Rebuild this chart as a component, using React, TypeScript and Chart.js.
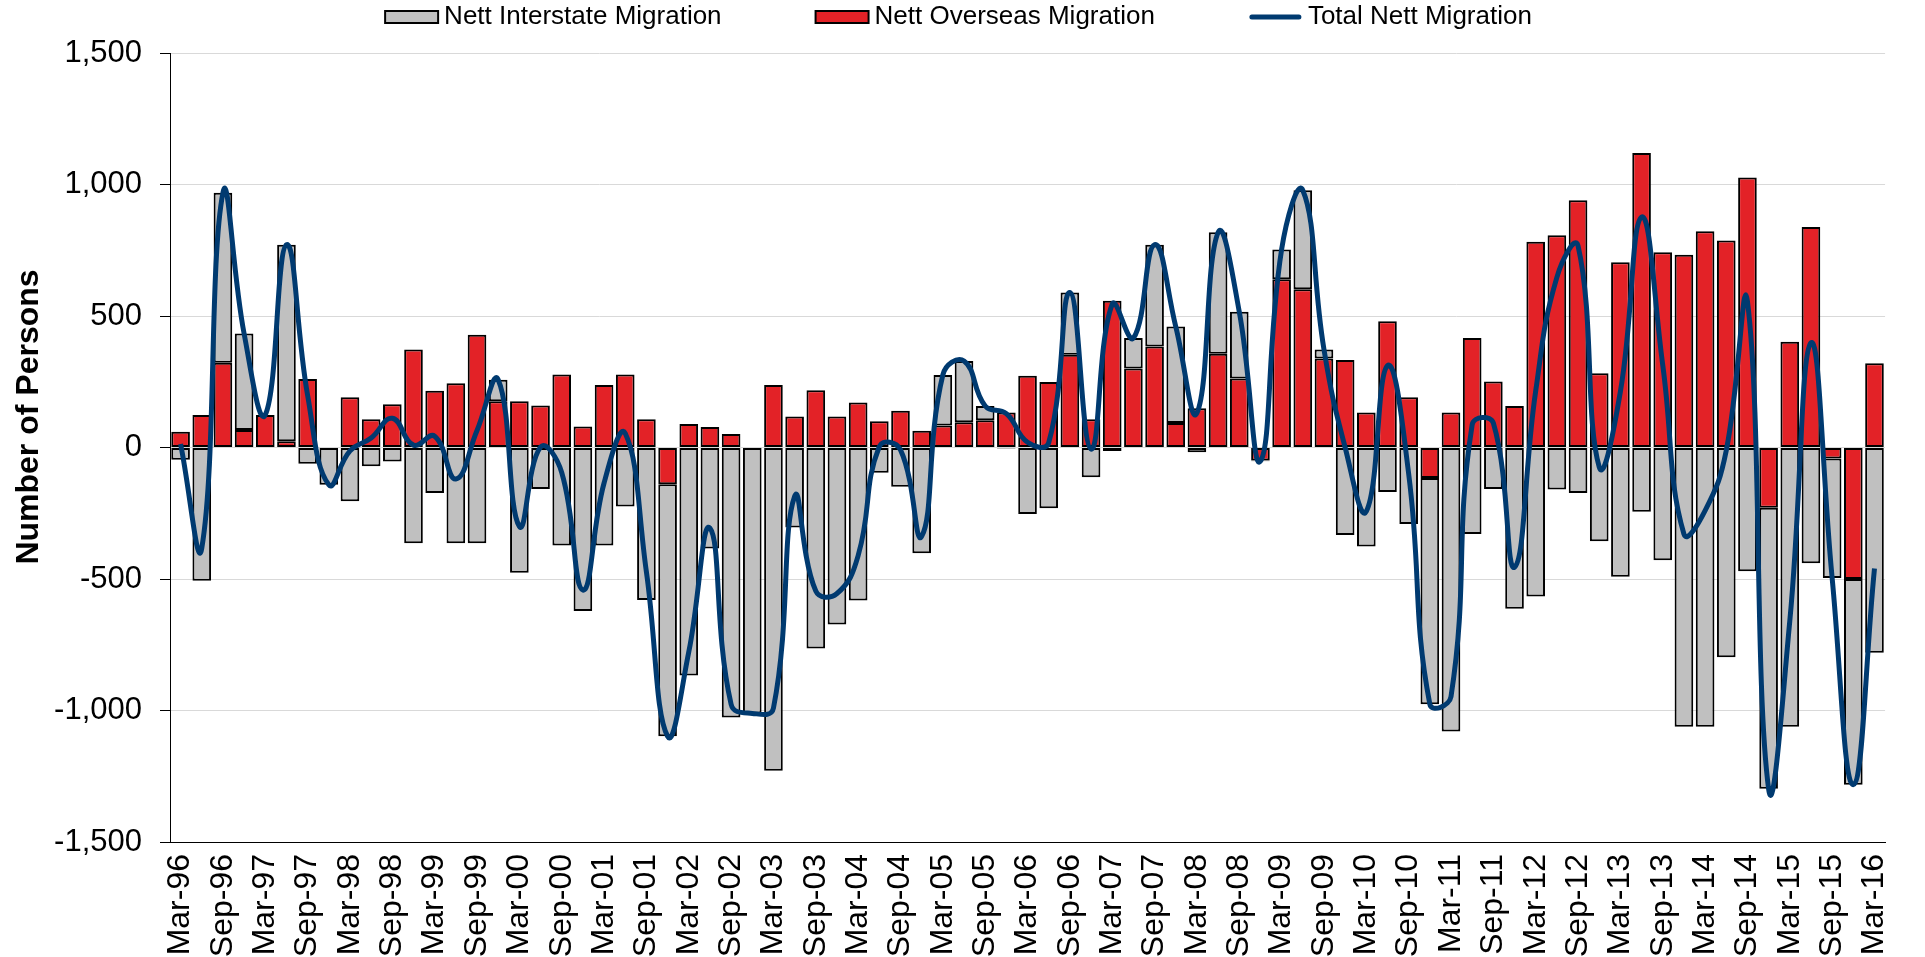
import { useEffect, useRef } from 'react';
import { Chart, registerables } from 'chart.js';

Chart.register(...registerables);

const categories = [
  'Mar-96','Jun-96','Sep-96','Dec-96','Mar-97','Jun-97','Sep-97','Dec-97',
  'Mar-98','Jun-98','Sep-98','Dec-98','Mar-99','Jun-99','Sep-99','Dec-99',
  'Mar-00','Jun-00','Sep-00','Dec-00','Mar-01','Jun-01','Sep-01','Dec-01',
  'Mar-02','Jun-02','Sep-02','Dec-02','Mar-03','Jun-03','Sep-03','Dec-03',
  'Mar-04','Jun-04','Sep-04','Dec-04','Mar-05','Jun-05','Sep-05','Dec-05',
  'Mar-06','Jun-06','Sep-06','Dec-06','Mar-07','Jun-07','Sep-07','Dec-07',
  'Mar-08','Jun-08','Sep-08','Dec-08','Mar-09','Jun-09','Sep-09','Dec-09',
  'Mar-10','Jun-10','Sep-10','Dec-10','Mar-11','Jun-11','Sep-11','Dec-11',
  'Mar-12','Jun-12','Sep-12','Dec-12','Mar-13','Jun-13','Sep-13','Dec-13',
  'Mar-14','Jun-14','Sep-14','Dec-14','Mar-15','Jun-15','Sep-15','Dec-15',
  'Mar-16',
];

const interstate = [
  -47, -507, 647, 366, 0, 747, -62, -142,
  -204, -71, -53, -364, -173, -364, -364, 82,
  -476, -158, -373, -622, -373, -224, -580, -958,
  -867, -384, -1027, -1011, -1229, -304, -764, -673,
  -582, -96, -149, -402, 192, 233, 54, -4,
  -253, -231, 236, -113, -13, 116, 387, 367,
  -18, 462, 254, -3, 113, 376, 35, -333,
  -376, -169, -291, -860, -1080, -329, -158, -613,
  -567, -160, -173, -356, -491, -244, -429, -1062,
  -1062, -798, -471, -1069, -1062, -440, -454, -782,
  -780,
];

const overseas = [
  60, 124, 322, 67, 124, 24, 260, 0,
  191, 107, 164, 373, 216, 244, 429, 176,
  176, 160, 278, 80, 238, 278, 107, -140,
  89, 78, 51, 0, 238, 118, 218, 118,
  171, 100, 140, 64, 84, 96, 104, 133,
  273, 249, 353, 107, 558, 300, 384, 93,
  149, 356, 262, -49, 640, 602, 338, 333,
  133, 480, 191, -116, 133, 416, 251, 158,
  782, 807, 940, 282, 704, 1120, 742, 733,
  822, 787, 1027, -229, 402, 838, -42, -500,
  320,
];

const totalNett = [
  13, -383, 969, 433, 124, 771, 198, -142,
  -13, 36, 111, 9, 43, -120, 65, 258,
  -300, 2, -95, -542, -135, 54, -473, -1098,
  -778, -306, -976, -1011, -991, -186, -546, -555,
  -411, 4, -9, -338, 276, 329, 158, 129,
  20, 18, 589, -6, 545, 416, 771, 460,
  131, 818, 516, -52, 753, 978, 373, 0,
  -243, 311, -100, -976, -947, 87, 93, -455,
  215, 647, 767, -74, 213, 876, 313, -329,
  -240, -11, 556, -1298, -660, 398, -496, -1282,
  -460,
];

const yTickValues = [-1500, -1000, -500, 0, 500, 1000, 1500];

const FONT = '"Liberation Sans", Arial, Helvetica, sans-serif';
const GRAY = '#C0C0C0';
const RED = '#E32227';
const NAVY = '#003A70';

const customLegend = {
  id: 'customLegend',
  afterDraw(chart: any) {
    const ctx = chart.ctx as CanvasRenderingContext2D;
    ctx.save();
    ctx.font = `26px ${FONT}`;
    const boxW = 53;
    const boxH = 12;
    const gapBox = 6;
    const gapItem = 94;
    const items = chart.data.datasets.map((ds: any) => ({
      label: ds.label as string,
      type: ds.type,
      fill: ds.backgroundColor,
      stroke: ds.borderColor,
      w: ctx.measureText(ds.label).width,
    }));
    let totalW = 0;
    items.forEach((it: any, i: number) => {
      totalW += boxW + gapBox + it.w + (i > 0 ? gapItem : 0);
    });
    let x = (chart.width - totalW) / 2 - 4;
    const cy = 17;
    items.forEach((it: any) => {
      if (it.type === 'line') {
        ctx.strokeStyle = it.stroke;
        ctx.lineWidth = 5;
        ctx.lineCap = 'round';
        ctx.beginPath();
        ctx.moveTo(x + 3, cy);
        ctx.lineTo(x + boxW - 3, cy);
        ctx.stroke();
      } else {
        ctx.fillStyle = it.fill;
        ctx.fillRect(x, cy - boxH / 2, boxW, boxH);
        ctx.strokeStyle = '#000';
        ctx.lineWidth = 2;
        ctx.strokeRect(x, cy - boxH / 2, boxW, boxH);
      }
      x += boxW + gapBox;
      ctx.fillStyle = '#000';
      ctx.textAlign = 'left';
      ctx.textBaseline = 'middle';
      ctx.fillText(it.label, x, cy);
      x += it.w + gapItem;
    });
    ctx.restore();
  },
};

const yTitle = {
  id: 'yTitle',
  afterDraw(chart: any) {
    const ctx = chart.ctx as CanvasRenderingContext2D;
    ctx.save();
    ctx.font = `bold 32px ${FONT}`;
    ctx.fillStyle = '#000';
    ctx.textAlign = 'center';
    ctx.textBaseline = 'middle';
    ctx.translate(29, 417);
    ctx.rotate(-Math.PI / 2);
    ctx.fillText('Number of Persons', 0, 0);
    ctx.restore();
  },
};

export default function App() {
  const ref = useRef<HTMLCanvasElement | null>(null);

  useEffect(() => {
    document.body.style.margin = '0';
    const canvas = ref.current;
    if (!canvas) return;
    Chart.defaults.font.family = FONT;
    Chart.defaults.color = '#000';
    const chart = new Chart(canvas, {
      type: 'bar',
      data: {
        labels: categories,
        datasets: [
          {
            type: 'bar',
            label: 'Nett Interstate Migration',
            data: interstate,
            backgroundColor: GRAY,
            borderColor: '#000',
            borderWidth: 2,
            borderSkipped: false,
            stack: 'bars',
            order: 2,
            barPercentage: 0.88,
            categoryPercentage: 1,
          },
          {
            type: 'bar',
            label: 'Nett Overseas Migration',
            data: overseas,
            backgroundColor: RED,
            borderColor: '#000',
            borderWidth: 2,
            borderSkipped: false,
            stack: 'bars',
            order: 1,
            barPercentage: 0.88,
            categoryPercentage: 1,
          },
          {
            type: 'line',
            label: 'Total Nett Migration',
            data: totalNett,
            borderColor: NAVY,
            backgroundColor: NAVY,
            borderWidth: 5,
            pointRadius: 0,
            tension: 0.45,
            fill: false,
            stack: 'line',
            order: 0,
          },
        ],
      } as any,
      options: {
        responsive: false,
        animation: false,
        layout: { padding: { top: 53, right: 19, left: 0, bottom: 0 } },
        plugins: {
          legend: { display: false },
          tooltip: { enabled: false },
          title: { display: false },
        },
        scales: {
          x: {
            stacked: true,
            offset: true,
            grid: { drawOnChartArea: false, drawTicks: false },
            border: { display: true, color: '#000', width: 1 },
            ticks: {
              autoSkip: false,
              maxRotation: 90,
              minRotation: 90,
              padding: 12,
              font: { size: 32 },
              color: '#000',
              callback: (_v: any, i: number) => (i % 2 === 0 ? categories[i] : ''),
            },
            afterFit: (scale: any) => {
              scale.height = 115;
            },
          },
          y: {
            stacked: true,
            min: -1500,
            max: 1500,
            afterBuildTicks: (scale: any) => {
              scale.ticks = yTickValues.map((v) => ({ value: v }));
            },
            grid: {
              color: '#D9D9D9',
              lineWidth: 1,
              tickColor: '#000',
              tickLength: 10,
            },
            border: { display: true, color: '#000', width: 1 },
            ticks: {
              padding: 18,
              font: { size: 31 },
              color: '#000',
              callback: (v: any) => Number(v).toLocaleString('en-US'),
            },
            afterFit: (scale: any) => {
              scale.width = 170;
            },
          },
        },
      } as any,
      plugins: [customLegend, yTitle],
    });
    return () => chart.destroy();
  }, []);

  return (
    <div style={{ width: 1925, height: 957 }}>
      <canvas ref={ref} width={1925} height={957} style={{ display: 'block' }} />
    </div>
  );
}
